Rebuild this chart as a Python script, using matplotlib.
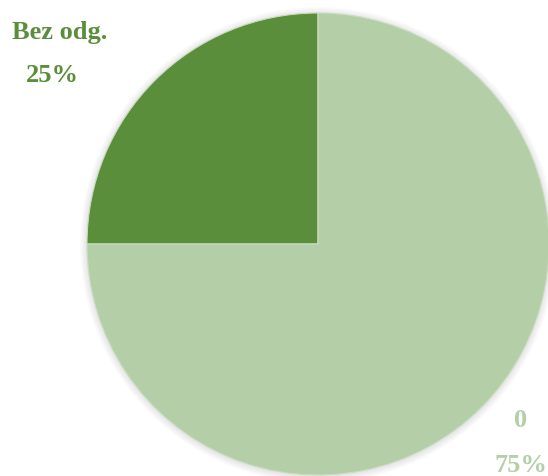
import matplotlib.pyplot as plt
from matplotlib.patches import Circle

labels = ["Bez odg.", "0"]
shares = [25, 75]
colors = ["#5A8E3A", "#B4CFA8"]

fig = plt.figure(figsize=(5.48, 4.77), dpi=100)
ax = fig.add_axes([87 / 548, 1 / 477, 462 / 548, 462 / 477])

# soft shadow behind the pie
for i in range(6):
    ax.add_patch(Circle((0, -0.004), 1.0 + 0.005 * (i + 1), color="black",
                        alpha=0.015, lw=0, zorder=0, clip_on=False))

wedges, _ = ax.pie(shares, colors=colors, startangle=90, radius=1.0,
                   wedgeprops=dict(edgecolor="#c9dcc0", linewidth=0.8))
for w in wedges:
    w.set_clip_on(False)
    w.set_zorder(1)

ax.set_xlim(-1, 1)
ax.set_ylim(-1, 1)
ax.set_aspect("equal")
ax.axis("off")

font = dict(family="Liberation Serif", fontweight="bold", fontsize=19,
            ha="center", va="center")
fig.text(60 / 548, 1 - 32 / 477, labels[0], color=colors[0], **font)
fig.text(52 / 548, 1 - 76 / 477, f"{shares[0]}%", color=colors[0], **font)
fig.text(521 / 548, 1 - 421 / 477, labels[1], color=colors[1], **font)
fig.text(521 / 548, 1 - 466 / 477, f"{shares[1]}%", color=colors[1], **font)

fig.savefig("out.png", dpi=100)
